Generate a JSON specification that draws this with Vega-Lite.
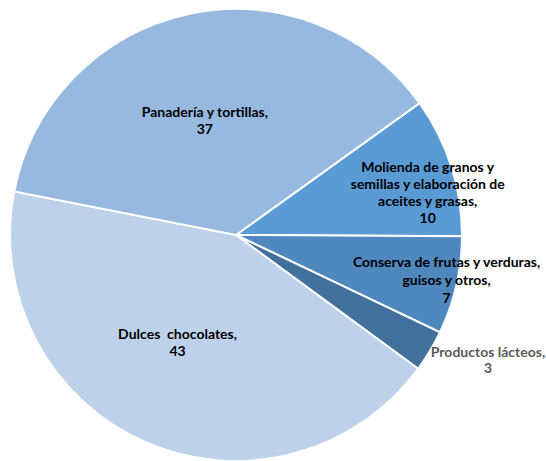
{
  "$schema": "https://vega.github.io/schema/vega-lite/v6.json",
  "width": 472,
  "height": 470,
  "padding": 0,
  "autosize": {"type": "pad"},
  "background": "white",
  "config": {"view": {"stroke": null}},
  "data": {
    "values": [
      {"order": 1, "cat": "Molienda", "value": 10, "label": "Molienda de granos y\nsemillas y elaboración de\naceites y grasas,\n10"},
      {"order": 2, "cat": "Conserva", "value": 7, "label": "Conserva de frutas y verduras,\nguisos y otros,\n7"},
      {"order": 3, "cat": "Lacteos", "value": 3, "label": "Productos lácteos,\n3"},
      {"order": 4, "cat": "Dulces", "value": 43, "label": "Dulces \u00a0chocolates,\n43"},
      {"order": 5, "cat": "Panaderia", "value": 37, "label": "Panadería y tortillas,\n37"}
    ]
  },
  "transform": [
    {"stack": "value", "groupby": [], "sort": [{"field": "order"}], "as": ["v0", "v1"]},
    {"calculate": "(datum.v0 + datum.v1) / 2", "as": "mid"}
  ],
  "layer": [
    {
      "mark": {"type": "arc", "radius": 226, "stroke": "white", "strokeWidth": 2},
      "encoding": {
        "theta": {"field": "v0", "type": "quantitative", "scale": {"domain": [0, 100], "range": [0.9477, 7.2309]}},
        "theta2": {"field": "v1"},
        "color": {
          "field": "cat", "type": "nominal", "legend": null,
          "scale": {
            "domain": ["Molienda", "Conserva", "Lacteos", "Dulces", "Panaderia"],
            "range": ["#5A9BD5", "#4F87BF", "#41709C", "#BDD1EB", "#97B9E0"]
          }
        }
      }
    },
    {
      "transform": [{"filter": {"field": "cat", "equal": "Panaderia"}}],
      "mark": {"type": "text", "radius": 118, "dx": -6, "dy": -6.5, "font": "Lato", "fontWeight": "bold", "fontSize": 14, "lineBreak": "\n", "lineHeight": 17, "align": "center", "baseline": "middle", "color": "black"},
      "encoding": {"theta": {"field": "mid", "type": "quantitative"}, "text": {"field": "label"}}
    },
    {
      "transform": [{"filter": {"field": "cat", "equal": "Molienda"}}],
      "mark": {"type": "text", "radius": 196, "dx": 5, "dy": -7.5, "font": "Lato", "fontWeight": "bold", "fontSize": 14, "lineBreak": "\n", "lineHeight": 17, "align": "center", "baseline": "middle", "color": "black"},
      "encoding": {"theta": {"field": "mid", "type": "quantitative"}, "text": {"field": "label"}}
    },
    {
      "transform": [{"filter": {"field": "cat", "equal": "Conserva"}}],
      "mark": {"type": "text", "radius": 215, "dx": 1, "dy": -20, "font": "Lato", "fontWeight": "bold", "fontSize": 14, "lineBreak": "\n", "lineHeight": 18, "align": "center", "baseline": "middle", "color": "black"},
      "encoding": {"theta": {"field": "mid", "type": "quantitative"}, "text": {"field": "label"}}
    },
    {
      "transform": [{"filter": {"field": "cat", "equal": "Lacteos"}}],
      "mark": {"type": "text", "radius": 282, "dx": 10, "dy": -27, "font": "Lato", "fontWeight": "bold", "fontSize": 14, "lineBreak": "\n", "lineHeight": 16, "align": "center", "baseline": "middle", "color": "#595959"},
      "encoding": {"theta": {"field": "mid", "type": "quantitative"}, "text": {"field": "label"}}
    },
    {
      "transform": [{"filter": {"field": "cat", "equal": "Dulces"}}],
      "mark": {"type": "text", "radius": 123, "dx": -9, "dy": -12.5, "font": "Lato", "fontWeight": "bold", "fontSize": 14, "lineBreak": "\n", "lineHeight": 17, "align": "center", "baseline": "middle", "color": "black"},
      "encoding": {"theta": {"field": "mid", "type": "quantitative"}, "text": {"field": "label"}}
    }
  ]
}
